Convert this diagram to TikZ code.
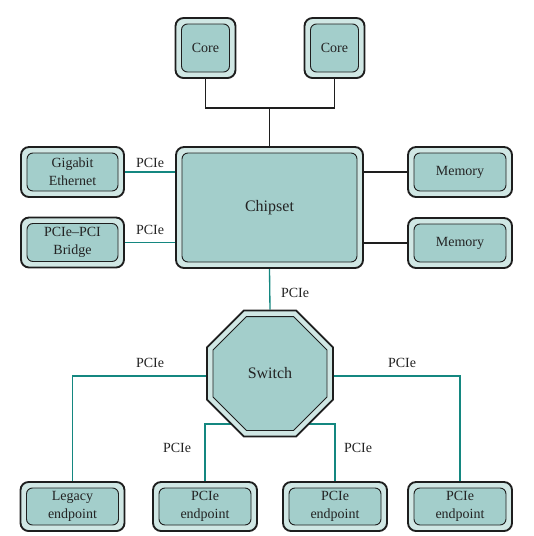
\documentclass[tikz,border=0pt]{standalone}
\usepackage{fontspec}
\setmainfont{Liberation Serif}
\usetikzlibrary{shapes.geometric,backgrounds,calc}
\definecolor{ringc}{RGB}{208,231,228}
\definecolor{innerc}{RGB}{163,206,203}
\definecolor{pciec}{RGB}{20,135,128}
\definecolor{txtc}{RGB}{35,35,35}
\definecolor{edgec}{RGB}{30,30,30}
\begin{document}
\begin{tikzpicture}[x=0.75pt,y=-0.75pt,
  unit/.style={rounded corners=6pt, fill=ringc, draw=edgec, line width=1.4pt,
    align=center, text=txtc, font=\fontsize{10.5}{13.5}\selectfont, inner sep=0pt,
    path picture={\draw[rounded corners=4.5pt, fill=innerc, draw=edgec, line width=0.7pt]
      ([shift={(4.5pt,-4.5pt)}]path picture bounding box.north west) rectangle
      ([shift={(-4.5pt,4.5pt)}]path picture bounding box.south east);}},
  small/.style={minimum width=77.25pt, minimum height=37.5pt},
  bottom/.style={minimum width=78pt, minimum height=36.75pt},
  oct/.style={regular polygon, regular polygon sides=8, inner sep=0pt, draw=edgec},
  blk/.style={draw=edgec, line width=1pt},
  pcie/.style={draw=pciec, line width=1pt},
  lbl/.style={text=txtc, font=\fontsize{10.5}{12}\selectfont, inner sep=1pt}]
\useasboundingbox (0,0) rectangle (534,536);

\node[unit, minimum width=45pt, minimum height=45pt] (c1) at (205.5,48) {Core};
\node[unit, minimum width=45pt, minimum height=45pt] (c2) at (334.5,48) {Core};
\node[unit, minimum width=140.25pt, minimum height=90.75pt, font=\fontsize{12}{14}\selectfont] (chip) at (269.5,207.5) {Chipset};
\node[unit, small] (ge) at (72.5,172) {Gigabit\\Ethernet};
\node[unit, small] (br) at (72.5,242.5) {PCIe--PCI\\Bridge};
\node[unit, small, minimum width=78pt] (m1) at (460,172) {Memory};
\node[unit, small, minimum width=78pt] (m2) at (460,243) {Memory};

\node[oct, minimum size=102.3pt, fill=ringc, line width=1.4pt] (sw) at (270,373.5) {};
\node[oct, minimum size=92.5pt, fill=innerc, line width=0.7pt, text=txtc, font=\fontsize{12}{14}\selectfont] (swi) at (sw.center) {Switch};

\node[unit, bottom] (leg) at (72.5,506.5) {Legacy\\endpoint};
\node[unit, bottom] (e1) at (205,506.5) {PCIe\\endpoint};
\node[unit, bottom] (e2) at (335,506.5) {PCIe\\endpoint};
\node[unit, bottom] (e3) at (460,506.5) {PCIe\\endpoint};

\node[lbl] (l1) at (150,163) {PCIe};
\node[lbl] (l2) at (150,230) {PCIe};
\node[lbl] (l3) at (295,293) {PCIe};
\node[lbl] (l4) at (150,363) {PCIe};
\node[lbl] (l5) at (402,363) {PCIe};
\node[lbl] (l6) at (177,448) {PCIe};
\node[lbl] (l7) at (358,448) {PCIe};

\begin{pgfonlayer}{background}
\coordinate (j) at (chip.north |- 0,108);
\draw[blk] (c1.south) |- (j) -| (c2.south);
\draw[blk] (j) -- (chip.north);
\draw[pcie] (ge.east) -- (ge.east -| chip.west);
\draw[pcie] (br.east) -- (br.east -| chip.west);
\draw[blk] (m1.west) -- (m1.west -| chip.east);
\draw[blk] (m2.west) -- (m2.west -| chip.east);
\draw[pcie] (chip.south) -- (sw.north);
\coordinate (hm) at ($(sw.center)+(0,2.5)$);
\coordinate (hl) at ($(sw.center)+(0,50.5)$);
\draw[pcie] (hm) -| (leg.north);
\draw[pcie] (hm) -| (e3.north);
\draw[pcie] (hl) -| (e1.north);
\draw[pcie] (hl) -| (e2.north);
\end{pgfonlayer}
\end{tikzpicture}
\end{document}
